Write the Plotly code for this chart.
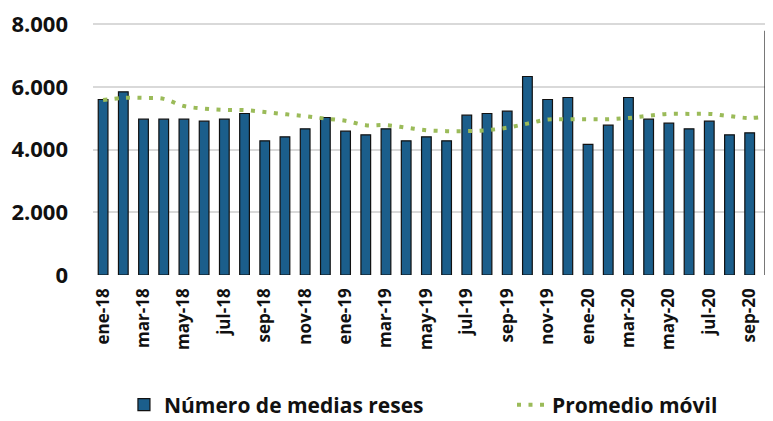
import plotly.graph_objects as go

months = ["ene-18","feb-18","mar-18","abr-18","may-18","jun-18","jul-18","ago-18","sep-18","oct-18","nov-18","dic-18",
          "ene-19","feb-19","mar-19","abr-19","may-19","jun-19","jul-19","ago-19","sep-19","oct-19","nov-19","dic-19",
          "ene-20","feb-20","mar-20","abr-20","may-20","jun-20","jul-20","ago-20","sep-20","oct-20"]
medias_reses = [5600, 5843, 4972, 4972, 4972, 4908, 4972, 5153, 4282, 4410, 4665, 5025,
                4590, 4473, 4665, 4282, 4410, 4282, 5100, 5153, 5227, 6333, 5600, 5663,
                4165, 4781, 5663, 4972, 4845, 4665, 4908, 4473, 4536, 7777]
promedio_movil = [5580, 5650, 5650, 5620, 5390, 5310, 5270, 5260, 5200, 5130, 5070, 4990,
                  4920, 4780, 4780, 4700, 4620, 4590, 4590, 4620, 4700, 4830, 4960, 4970,
                  4970, 4970, 5010, 5080, 5140, 5140, 5140, 5070, 5010, 5080]
tick_labels = months[::2]

font_family = "Open Sans"
legend_font = dict(size=21, family=font_family, weight="bold", color="#111111")

fig = go.Figure()
fig.add_trace(go.Bar(
    x=months, y=medias_reses, name="Número de medias reses",
    marker=dict(color="#1B5E8B", line=dict(color="#111111", width=1.2)),
    legend="legend",
))
fig.add_trace(go.Scatter(
    x=months, y=promedio_movil, name="Promedio móvil", mode="lines",
    line=dict(color="#9BBB59", width=4, dash="4px,7.5px", shape="spline"),
    legend="legend2",
))

fig.update_layout(
    width=773, height=421,
    margin=dict(l=85, r=0, t=15, b=154),
    plot_bgcolor="white", paper_bgcolor="white",
    separators=",.",
    bargap=0.52,
    font=dict(family=font_family, color="#222222"),
    showlegend=True,
    legend=dict(orientation="h", xref="container", x=0.150, xanchor="left",
                yref="container", y=0.057, yanchor="middle", font=legend_font),
    legend2=dict(orientation="h", xref="container", x=0.652, xanchor="left",
                 yref="container", y=0.057, yanchor="middle", font=legend_font),
    xaxis=dict(type="category", categoryorder="array", categoryarray=months,
               range=[-0.5, 33.55], tickmode="array", tickvals=tick_labels, ticktext=tick_labels,
               tickangle=-90, tickfont=dict(size=17, family=font_family, weight="bold", color="#111111"),
               showgrid=False, ticks="", showline=False, zeroline=False, ticklabelstandoff=9,
               automargin=False),
    yaxis=dict(range=[0, 8040], tickvals=[0, 2000, 4000, 6000, 8000], tickformat=",d",
               showgrid=True, gridcolor="#D9D9D9", gridwidth=1.5, zeroline=False,
               ticks="", ticklabelstandoff=24, automargin=False, ticklabeloverflow="allow",
               tickfont=dict(size=22, family=font_family, weight="bold", color="#111111")),
)

fig.write_html("out.html")
